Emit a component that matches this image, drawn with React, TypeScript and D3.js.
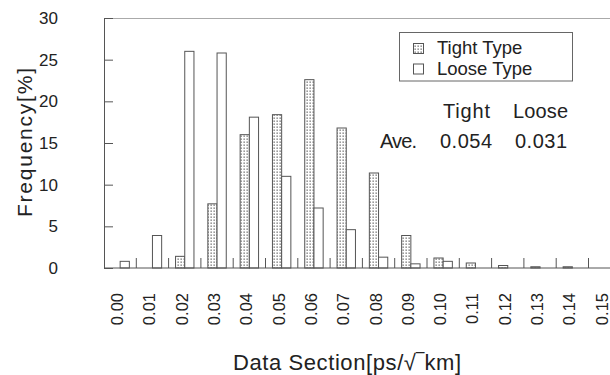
import React, { useEffect, useRef } from 'react';
import * as d3 from 'd3';

// bins of the histogram (ps/sqrt(km))
const categories = ['0.00', '0.01', '0.02', '0.03', '0.04', '0.05', '0.06', '0.07',
    '0.08', '0.09', '0.10', '0.11', '0.12', '0.13', '0.14', '0.15'];
const tightValues = [0, 0, 1.4, 7.7, 16.0, 18.4, 22.6, 16.8, 11.4, 3.9, 1.2, 0.6, 0.3, 0.15, 0.15, 0];
const looseValues = [0.8, 3.9, 26.0, 25.8, 18.1, 11.0, 7.2, 4.6, 1.3, 0.5, 0.8, 0, 0, 0, 0, 0];
const yTicks = [0, 5, 10, 15, 20, 25, 30];
const seriesNames = ['Tight Type', 'Loose Type'];
const aveHeaders = ['Tight', 'Loose'];
const aveValues = ['0.054', '0.031'];

const FONT = '"Liberation Sans", Arial, Helvetica, sans-serif';

const App = () => {
    const ref = useRef<SVGSVGElement>(null);

    useEffect(() => {
        const svg = d3.select(ref.current);
        svg.selectAll('*').remove();

        const left = 104;
        const top = 18;
        const bottom = 268;
        const bin = 32.3;
        const right = left + bin * categories.length;

        const x = d3.scaleBand<string>().domain(categories).range([left, right]).padding(0);
        const sub = d3.scaleBand<string>().domain(['tight', 'loose'])
            .range([x.bandwidth() * 0.215, x.bandwidth() * 0.785]);
        const y = d3.scaleLinear().domain([0, 30]).range([bottom, top]);

        const defs = svg.append('defs');
        const pat = defs.append('pattern')
            .attr('id', 'dots')
            .attr('patternUnits', 'userSpaceOnUse')
            .attr('width', 3)
            .attr('height', 3);
        pat.append('rect').attr('width', 3).attr('height', 3).attr('fill', '#fff');
        pat.append('rect').attr('x', 0.5).attr('y', 0.5).attr('width', 1.3).attr('height', 1.3).attr('fill', '#666');

        // top frame line
        svg.append('line')
            .attr('x1', left).attr('x2', 610)
            .attr('y1', top + 0.5).attr('y2', top + 0.5)
            .attr('stroke', '#aaa');

        // bars
        const groups = [
            { key: 'tight', values: tightValues, fill: 'url(#dots)' },
            { key: 'loose', values: looseValues, fill: '#fff' },
        ];
        groups.forEach((s) => {
            svg.append('g')
                .selectAll('rect')
                .data(categories.map((c, i) => ({ c, v: s.values[i] })).filter((d) => d.v > 0))
                .enter()
                .append('rect')
                .attr('x', (d) => (x(d.c) as number) + (sub(s.key) as number))
                .attr('y', (d) => y(d.v))
                .attr('width', sub.bandwidth())
                .attr('height', (d) => bottom - y(d.v))
                .attr('fill', s.fill)
                .attr('stroke', '#555')
                .attr('stroke-width', 1);
        });

        // x axis: baseline, inward ticks at bin edges, rotated labels
        const xg = svg.append('g');
        xg.append('line')
            .attr('x1', left).attr('x2', 610)
            .attr('y1', bottom).attr('y2', bottom)
            .attr('stroke', '#555');
        xg.selectAll('.edge')
            .data(categories.slice(1))
            .enter()
            .append('line')
            .attr('x1', (d) => x(d) as number)
            .attr('x2', (d) => x(d) as number)
            .attr('y1', bottom)
            .attr('y2', bottom - 10)
            .attr('stroke', '#555');
        xg.selectAll('text')
            .data(categories)
            .enter()
            .append('text')
            .attr('transform', (d) => `translate(${(x(d) as number) + x.bandwidth() / 2 + 3},293) rotate(-90)`)
            .attr('text-anchor', 'end')
            .attr('font-family', FONT)
            .attr('font-size', 16.5)
            .attr('fill', '#222')
            .text((d) => d);

        // y axis
        const yg = svg.append('g')
            .attr('transform', `translate(${left},0)`)
            .call(d3.axisLeft(y).tickValues(yTicks).tickSizeInner(-9).tickSizeOuter(0).tickPadding(46));
        yg.select('.domain').attr('stroke', '#555');
        yg.selectAll('.tick line').attr('stroke', '#555');
        yg.selectAll('.tick text')
            .attr('font-family', FONT)
            .attr('font-size', 17)
            .attr('fill', '#222');

        svg.append('text')
            .attr('transform', 'translate(32,142.5) rotate(-90)')
            .attr('text-anchor', 'middle')
            .attr('font-family', FONT)
            .attr('font-size', 21)
            .attr('fill', '#222')
            .attr('textLength', 149)
            .text('Frequency[%]');

        svg.append('text')
            .attr('x', 233)
            .attr('y', 370)
            .attr('font-family', FONT)
            .attr('font-size', 22)
            .attr('fill', '#222')
            .attr('textLength', 228)
            .text('Data Section[ps/\u221A\u203Ekm]');

        // legend
        const lg = svg.append('g');
        lg.append('rect')
            .attr('x', 399.5).attr('y', 32.5)
            .attr('width', 173).attr('height', 48.5)
            .attr('fill', '#fff')
            .attr('stroke', '#666');
        seriesNames.forEach((name, i) => {
            lg.append('rect')
                .attr('x', 413.5).attr('y', 43.5 + i * 20.5)
                .attr('width', 10).attr('height', 10)
                .attr('fill', groups[i].fill)
                .attr('stroke', '#555');
            lg.append('text')
                .attr('x', 437).attr('y', 54 + i * 20.5)
                .attr('font-family', FONT)
                .attr('font-size', 18.5)
                .attr('fill', '#222')
                .text(name);
        });

        // averages
        const colX = [443, 513];
        const colW = [47, 55];
        aveHeaders.forEach((h, i) => {
            svg.append('text')
                .attr('x', colX[i]).attr('y', 118)
                .attr('font-family', FONT).attr('font-size', 20).attr('fill', '#222')
                .attr('textLength', colW[i])
                .text(h);
        });
        svg.append('text')
            .attr('x', 380).attr('y', 148)
            .attr('font-family', FONT).attr('font-size', 20).attr('fill', '#222')
            .attr('textLength', 37)
            .text('Ave.');
        const valX = [440, 515];
        aveValues.forEach((v, i) => {
            svg.append('text')
                .attr('x', valX[i]).attr('y', 148)
                .attr('font-family', FONT).attr('font-size', 20).attr('fill', '#222')
                .attr('textLength', 52)
                .text(v);
        });
    }, []);

    return (
        <svg ref={ref} width={610} height={375}
            style={{ position: 'absolute', left: 0, top: 0, background: '#fff' }} />
    );
};

export default App;
